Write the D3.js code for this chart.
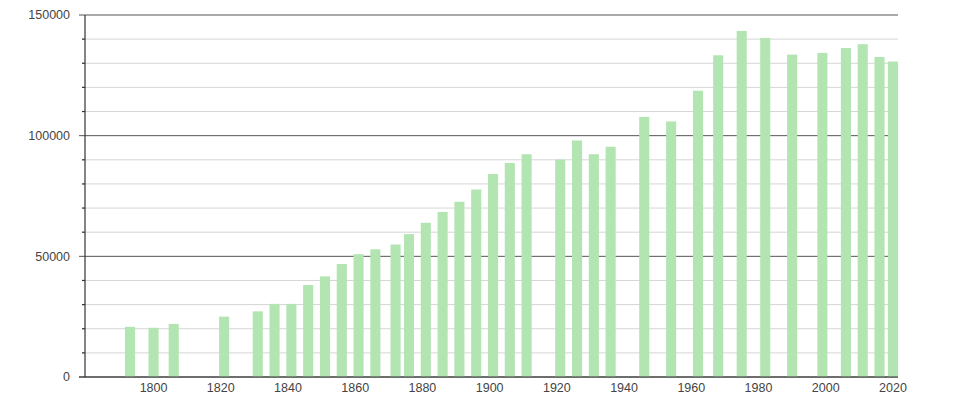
<!DOCTYPE html>
<html>
<head>
<meta charset="utf-8">
<script src="https://d3js.org/d3.v7.min.js"></script>
<style>
  body { margin: 0; background: #ffffff; }
  text { font-family: "Liberation Sans", Arial, sans-serif; font-size: 12.5px; fill: #444444; }
  .grid-minor line { stroke: #d6d6d6; stroke-width: 1px; }
  .grid-major line { stroke: #555555; stroke-width: 1px; }
  .axis-line { stroke: #333333; stroke-width: 1.2px; }
</style>
</head>
<body>
<div id="chart"></div>
<script>
  // census years and population
  const years = [1793, 1800, 1806, 1821, 1831, 1836, 1841, 1846, 1851, 1856,
                 1861, 1866, 1872, 1876, 1881, 1886, 1891, 1896, 1901, 1906,
                 1911, 1921, 1926, 1931, 1936, 1946, 1954, 1962, 1968, 1975,
                 1982, 1990, 1999, 2006, 2011, 2016, 2020];
  const population = [20800, 20400, 22000, 25000, 27200, 30300, 30300, 38100, 41700, 46800,
                      50900, 52900, 54900, 59200, 63900, 68400, 72600, 77700, 84100, 88700,
                      92300, 90100, 98000, 92300, 95400, 107800, 105900, 118600, 133300, 143400,
                      140500, 133600, 134300, 136300, 137900, 132600, 130700];
  const xTicks = [1800, 1820, 1840, 1860, 1880, 1900, 1920, 1940, 1960, 1980, 2000, 2020];
  const yMajorTicks = [0, 50000, 100000, 150000];
  const yMinorTicks = d3.range(0, 150001, 10000);

  const width = 960, height = 404;
  const margin = {top: 15, right: 62, bottom: 27, left: 85};
  const innerW = width - margin.left - margin.right;
  const innerH = height - margin.top - margin.bottom;

  const svg = d3.select("#chart")
    .append("svg")
    .attr("width", width)
    .attr("height", height)
    .append("g")
    .attr("transform", `translate(${margin.left}, ${margin.top})`);

  const x = d3.scaleLinear()
    .domain([1779.6, 2021.5])
    .range([0, innerW]);

  const y = d3.scaleLinear()
    .domain([0, 150000])
    .range([innerH, 0]);

  // minor grid
  svg.append("g")
    .attr("class", "grid-minor")
    .selectAll("line")
    .data(yMinorTicks.filter(d => d % 50000 !== 0))
    .join("line")
    .attr("x1", -3)
    .attr("x2", innerW)
    .attr("y1", d => y(d))
    .attr("y2", d => y(d));

  // major grid
  svg.append("g")
    .attr("class", "grid-major")
    .selectAll("line")
    .data(yMajorTicks)
    .join("line")
    .attr("x1", -6)
    .attr("x2", innerW)
    .attr("y1", d => y(d))
    .attr("y2", d => y(d));

  // minor tick marks on the left axis are dark
  svg.append("g")
    .selectAll("line")
    .data(yMinorTicks.filter(d => d % 50000 !== 0))
    .join("line")
    .attr("class", "axis-line")
    .attr("x1", -3)
    .attr("x2", 0)
    .attr("y1", d => y(d))
    .attr("y2", d => y(d));

  // bars
  const barW = x(1783) - x(1780);
  svg.selectAll("rect.bar")
    .data(years.map((yr, i) => ({year: yr, value: population[i]})))
    .join("rect")
    .attr("class", "bar")
    .attr("x", d => x(d.year) - barW / 2)
    .attr("y", d => y(d.value))
    .attr("width", barW)
    .attr("height", d => innerH - y(d.value))
    .attr("fill", "#b2e5b2");

  // axis lines
  svg.append("line")
    .attr("class", "axis-line")
    .attr("x1", 0).attr("x2", 0)
    .attr("y1", y(150000)).attr("y2", innerH);
  svg.append("line")
    .attr("class", "axis-line")
    .attr("x1", -6).attr("x2", innerW)
    .attr("y1", innerH).attr("y2", innerH);

  // y labels
  svg.append("g")
    .selectAll("text")
    .data(yMajorTicks)
    .join("text")
    .attr("x", -15)
    .attr("y", d => y(d))
    .attr("dy", "0.35em")
    .attr("text-anchor", "end")
    .text(d => d);

  // x labels
  svg.append("g")
    .selectAll("text")
    .data(xTicks)
    .join("text")
    .attr("x", d => x(d))
    .attr("y", innerH + 15)
    .attr("text-anchor", "middle")
    .text(d => d);
</script>
</body>
</html>
